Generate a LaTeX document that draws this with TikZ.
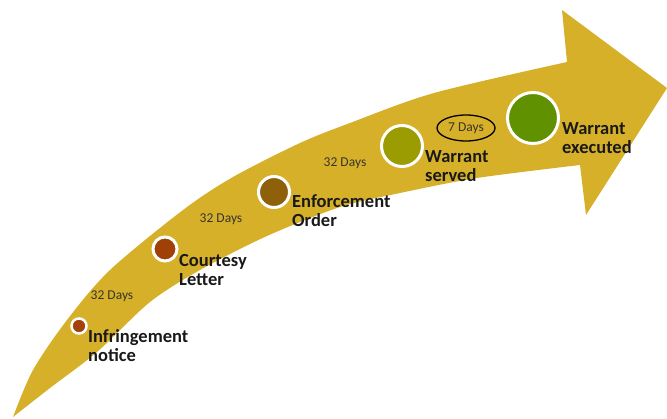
\documentclass[tikz,border=0pt]{standalone}
\usepackage{fontspec}
\setmainfont{Carlito}
\usepackage{tikz}
\usetikzlibrary{shapes.geometric}
\definecolor{bandcol}{RGB}{215,176,42}
\definecolor{infcol}{RGB}{165,66,10}
\definecolor{courtcol}{RGB}{160,64,6}
\definecolor{enfcol}{RGB}{142,96,10}
\definecolor{servcol}{RGB}{155,155,2}
\definecolor{execcol}{RGB}{96,145,0}

\begin{document}
\begin{tikzpicture}[x=1pt,y=1pt]
\tikzstyle{every node}+=[inner sep=0pt]
\tikzstyle{stage}=[circle,draw=white,line width=3pt]
\tikzstyle{steplabel}=[anchor=west,align=left,text=black!90,font=\fontsize{18.5}{19}\selectfont\bfseries]
\tikzstyle{daysnote}=[text=black!80!olive,font=\fontsize{13.5}{14}\selectfont]
\useasboundingbox (0,0) rectangle (667,-418);
% the curved arrow
\fill [bandcol] plot[smooth] coordinates {(13,-417) (33,-370) (67,-320) (110,-270) (183,-210) (233,-177) (300,-143) (350,-123) (434,-93) (567,-62)}
  -- (562,-10) -- (667,-88) -- (586,-215) -- (580,-165)
  -- plot[smooth] coordinates {(580,-165) (477,-178) (400,-193) (340,-207) (267,-236) (200,-270) (150,-302) (97,-352) (50,-388) (13,-417)} -- cycle;
% stages
\node [stage,fill=infcol,line width=2.5pt,minimum size=15pt] (infr) at (79,-326) {};
\node [stage,fill=courtcol,minimum size=24pt] (court) at (165,-249) {};
\node [stage,fill=enfcol,minimum size=31pt] (enf) at (274,-192) {};
\node [stage,fill=servcol,minimum size=41pt] (serv) at (402,-146) {};
\node [stage,fill=execcol,minimum size=51pt] (exec) at (533,-118) {};
\node [steplabel] (infrtext) at (88,-346) {Infringement\\notice};
\node [steplabel] (courttext) at (179,-270) {Courtesy\\Letter};
\node [steplabel] (enftext) at (292,-211) {Enforcement\\Order};
\node [steplabel] (servtext) at (425,-166) {Warrant\\served};
\node [steplabel] (exectext) at (562,-138) {Warrant\\executed};
% time between stages
\node [daysnote] (daysa) at (112,-296) {32 Days};
\node [daysnote] (daysb) at (221,-219) {32 Days};
\node [daysnote] (daysc) at (345,-163) {32 Days};
\node [daysnote,ellipse,draw=black,line width=1.3pt,minimum width=58pt,minimum height=26pt] (daysd) at (466,-128) {7 Days};
\end{tikzpicture}
\end{document}
